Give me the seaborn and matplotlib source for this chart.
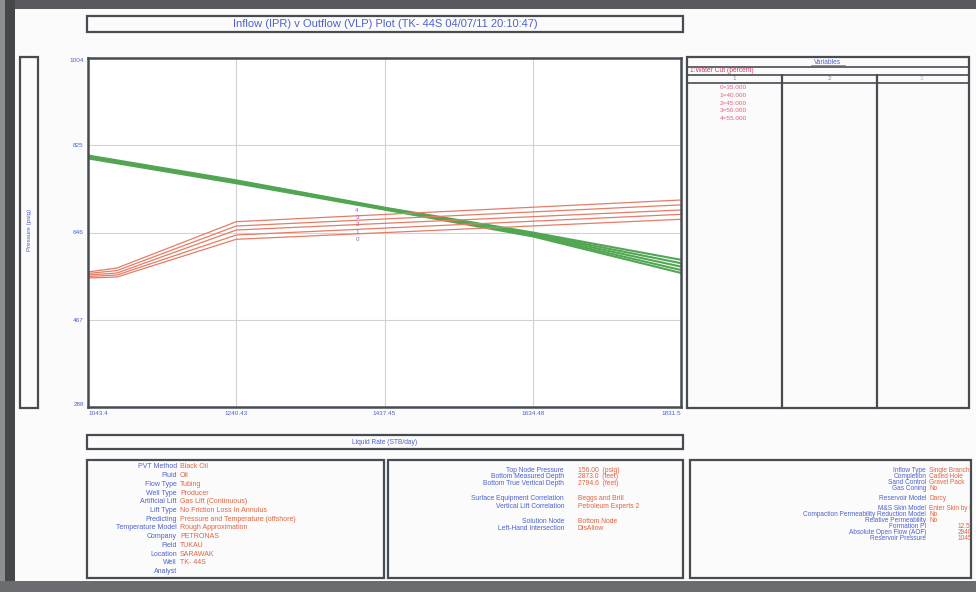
import numpy as np
import pandas as pd
import matplotlib
matplotlib.use('Agg')
import matplotlib.pyplot as plt
from matplotlib.patches import Rectangle
import seaborn as sns

## chart data
water_cut = [35.0, 40.0, 45.0, 50.0, 55.0]
case_ids = ['0', '1', '2', '3', '4']

vlp_rate = [1043.4, 1082.0, 1240.43, 1831.5]
vlp_p = [
    [552.7, 554.7, 632.1, 673.1],
    [555.7, 558.8, 640.9, 683.3],
    [558.8, 562.9, 651.1, 692.2],
    [561.9, 568.0, 659.3, 702.7],
    [565.0, 573.2, 668.2, 712.7],
]

ipr_rate = [1043.4, 1240.43, 1437.45, 1634.48, 1831.5]
ipr_p = [
    [804.0, 753.0, 697.0, 646.0, 590.0],
    [802.5, 751.5, 696.0, 644.0, 583.0],
    [801.0, 750.0, 695.0, 642.0, 576.0],
    [799.5, 748.5, 694.0, 640.0, 569.0],
    [798.0, 747.0, 693.0, 638.0, 563.0],
]

x_ticks = [1043.4, 1240.43, 1437.45, 1634.48, 1831.5]
x_ticklabels = ['1043.4', '1240.43', '1437.45', '1634.48', '1831.5']
y_ticks = [288, 467, 646, 825, 1004]
y_ticklabels = ['288', '467', '646', '825', '1004']

title = 'Inflow (IPR) v Outflow (VLP) Plot (TK- 44S 04/07/11 20:10:47)'
x_label = 'Liquid Rate (STB/day)'
y_label = 'Pressure (psig)'

box1_keys = ['PVT Method', 'Fluid', 'Flow Type', 'Well Type', 'Artificial Lift', 'Lift Type',
             'Predicting', 'Temperature Model', 'Company', 'Field', 'Location', 'Well', 'Analyst']
box1_vals = ['Black Oil', 'Oil', 'Tubing', 'Producer', 'Gas Lift (Continuous)',
             'No Friction Loss In Annulus', 'Pressure and Temperature (offshore)',
             'Rough Approximation', 'PETRONAS', 'TUKAU', 'SARAWAK', 'TK- 44S', '']

box2_keys = ['Top Node Pressure', 'Bottom Measured Depth', 'Bottom True Vertical Depth',
             'Surface Equipment Correlation', 'Vertical Lift Correlation',
             'Solution Node', 'Left-Hand Intersection']
box2_vals = ['156.00  (psig)', '2873.0  (feet)', '2794.6  (feet)', 'Beggs and Brill',
             'Petroleum Experts 2', 'Bottom Node', 'DisAllow']

box3_keys = ['Inflow Type', 'Completion', 'Sand Control', 'Gas Coning', 'Reservoir Model',
             'M&S Skin Model', 'Compaction Permeability Reduction Model', 'Relative Permeability',
             'Formation PI', 'Absolute Open Flow (AOF)', 'Reservoir Pressure']
box3_vals = ['Single Branch', 'Cased Hole', 'Gravel Pack', 'No', 'Darcy', 'Enter Skin by Hand',
             'No', 'No', '', '', '']
box3_nums = ['', '', '', '', '', '', '', '', '12.50', '2940.1', '1045.0']

## colours
BLUE = '#4d62cf'
RED = '#e2633f'
FRAME = '#474c52'
GRID = '#d2d2d2'
VLP_C = '#e47c66'
IPR_C = '#52a652'
LAB_C = '#b24fc0'
PAPER = '#fbfbfb'

sns.set_style('white')
plt.rcParams['font.family'] = ['Liberation Sans', 'DejaVu Sans']

W, H = 976, 592
fig = plt.figure(figsize=(W / 100, H / 100), dpi=100, facecolor=PAPER)

def px_axes(x0, y0, x1, y1):
    return fig.add_axes([x0 / W, 1 - y1 / H, (x1 - x0) / W, (y1 - y0) / H])

## background layer in pixel coords (y down)
bg = fig.add_axes([0, 0, 1, 1])
bg.set_xlim(0, W)
bg.set_ylim(H, 0)
bg.axis('off')

def box(x0, y0, x1, y1, lw=1.6):
    r = Rectangle((x0, y0), x1 - x0, y1 - y0, fill=False, ec=FRAME, lw=lw, zorder=12)
    bg.add_patch(r)
    return r

def txt(x, y, s, size=4.8, color=BLUE, ha='left', **kw):
    return bg.text(x, y, s, fontsize=size, color=color, ha=ha, va='center', **kw)

# scan border
bg.add_patch(Rectangle((0, 0), W, 9, color='#57595c', lw=0, zorder=20))
bg.add_patch(Rectangle((0, 0), 5, H, color='#8d8f92', lw=0, zorder=20))
bg.add_patch(Rectangle((5, 0), 10, H, color='#45474a', lw=0, zorder=20))
bg.add_patch(Rectangle((0, 581), W, 11, color='#6a6c6f', lw=0, zorder=20))

# title box
box(87, 16, 683, 32)
txt(385, 24, title, size=8, ha='center')

# y label box
box(20, 57, 38, 408)
txt(29, 230, y_label, size=4.5, ha='center', rotation=90)

# x label box
box(87, 435, 683, 449)
txt(385, 442, x_label, size=4.8, ha='center')

# variables panel
box(687, 57, 969, 408)
bg.plot([687, 969], [66.5, 66.5], color=FRAME, lw=1.2)
bg.plot([687, 969], [74.5, 74.5], color=FRAME, lw=1.2)
bg.plot([687, 969], [82.5, 82.5], color=FRAME, lw=1.2)
bg.plot([782, 782], [74.5, 408], color=FRAME, lw=1.6)
bg.plot([877, 877], [74.5, 408], color=FRAME, lw=1.6)
txt(828, 62, 'Variables', size=4.8, ha='center')
bg.plot([811, 845], [65, 65], color=BLUE, lw=0.5)
txt(690, 70.5, '1:Water Cut (percent)', size=4.8, color='#cf3f5c')
txt(734, 78.5, '1', size=4.5, color='#888888', ha='center')
txt(829, 78.5, '2', size=4.5, color='#888888', ha='center')
txt(922, 78.5, '3', size=4.5, color='#bbbbbb', ha='center')
for i, wc in enumerate(water_cut):
    txt(733, 87.5 + 7.8 * i, '%s=%.3f' % (case_ids[i], wc), size=4.6, color='#e0607a', ha='center')

# bottom info boxes
box(87, 460, 384, 578)
for i, (k, v) in enumerate(zip(box1_keys, box1_vals)):
    y = 467 + 8.7 * i
    txt(177, y, k, size=5.0, ha='right')
    txt(180, y, v, size=5.0, color=RED)

box(388, 460, 683, 578)
rows2 = [470, 477, 483.5, 498.5, 506.5, 521.5, 529]
for y, k, v in zip(rows2, box2_keys, box2_vals):
    txt(564, y, k, size=4.9, ha='right')
    txt(578, y, v, size=4.9, color=RED)

box(690, 460, 971, 578)
rows3 = [470, 476, 482, 488, 498.5, 508.5, 514.5, 520.5, 526.5, 532.5, 538.5]
for y, k, v, n in zip(rows3, box3_keys, box3_vals, box3_nums):
    txt(926, y, k, size=4.7, ha='right')
    if v:
        txt(929, y, v, size=4.7, color=RED)
    if n:
        txt(958, y, n, size=4.7, color=RED)
# the report cuts the values off at the panel edge
bg.add_patch(Rectangle((971.8, 455), 5, 126, color=PAPER, lw=0, zorder=11))

## main plot
vlp_df = pd.DataFrame({
    'rate': np.tile(vlp_rate, len(case_ids)),
    'pressure': np.concatenate(vlp_p),
    'case': np.repeat(case_ids, len(vlp_rate)),
})
ipr_df = pd.DataFrame({
    'rate': np.tile(ipr_rate, len(case_ids)),
    'pressure': np.concatenate(ipr_p),
    'case': np.repeat(case_ids, len(ipr_rate)),
})

ax = px_axes(88, 58, 681, 407)
ax.set_facecolor('white')
sns.lineplot(data=ipr_df, x='rate', y='pressure', hue='case', palette=[IPR_C] * 5,
             estimator=None, sort=False, legend=False, lw=1.5, ax=ax)
sns.lineplot(data=vlp_df, x='rate', y='pressure', hue='case', palette=[VLP_C] * 5,
             estimator=None, sort=False, legend=False, lw=0.9, ax=ax)

# case labels on the VLP curves
lab_x = 1401.0
p_lo = np.interp(lab_x, vlp_rate, vlp_p[0])
p_hi = np.interp(lab_x, vlp_rate, vlp_p[-1])
for i, yv in enumerate(np.linspace(p_lo - 11, p_hi + 11, len(case_ids))):
    ax.text(lab_x, yv, case_ids[i], fontsize=4.5, color=LAB_C, ha='center', va='center')

ax.set_xlim(x_ticks[0], x_ticks[-1])
ax.set_ylim(y_ticks[0], y_ticks[-1])
ax.set_xticks(x_ticks)
ax.set_xticklabels(x_ticklabels)
ax.set_yticks(y_ticks)
ax.set_yticklabels(y_ticklabels)
ax.set_xlabel('')
ax.set_ylabel('')
ax.tick_params(length=0, labelsize=4.6, labelcolor=BLUE, pad=3)
ax.grid(True, color=GRID, lw=0.8)
for s in ax.spines.values():
    s.set_color(FRAME)
    s.set_linewidth(1.8)
    s.set_visible(True)

xl = ax.get_xticklabels()
xl[0].set_ha('left')
xl[-1].set_ha('right')
yl = ax.get_yticklabels()
yl[0].set_va('bottom')
yl[-1].set_va('top')

fig.savefig('out.png', dpi=100, facecolor=fig.get_facecolor())
